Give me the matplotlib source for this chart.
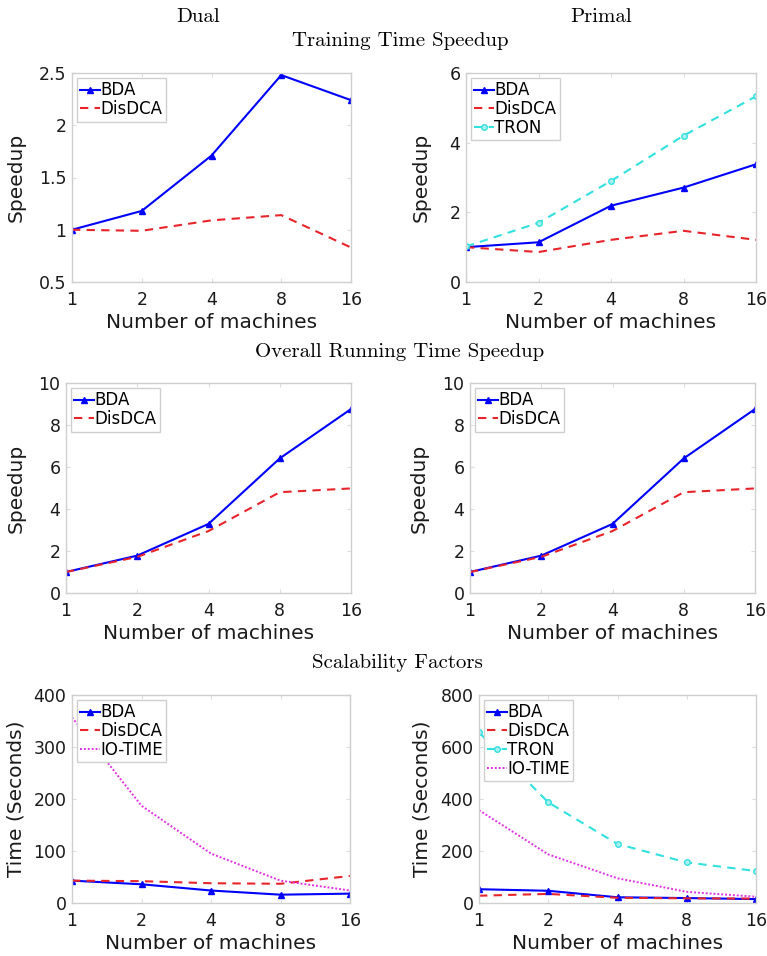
import numpy as np
import matplotlib.pyplot as plt

# machines on the x axis
machines = [1, 2, 4, 8, 16]

# Training time speedup
dual_train_bda = [1.0, 1.18, 1.71, 2.48, 2.24]
dual_train_disdca = [1.0, 0.99, 1.09, 1.14, 0.83]
primal_train_bda = [1.0, 1.14, 2.19, 2.71, 3.38]
primal_train_disdca = [1.0, 0.86, 1.21, 1.47, 1.21]
primal_train_tron = [1.02, 1.70, 2.90, 4.20, 5.33]

# Overall running time speedup (same in both columns)
overall_bda = [1.0, 1.78, 3.29, 6.41, 8.76]
overall_disdca = [1.0, 1.72, 2.95, 4.80, 4.98]

# Scalability factors (seconds)
dual_time_bda = [43, 36, 24, 16, 18]
dual_time_disdca = [43, 42, 38, 37, 52]
io_time = [357, 187, 95, 43, 24]
primal_time_bda = [53, 47, 22, 19, 15]
primal_time_disdca = [28, 35, 20, 18, 17]
primal_time_tron = [656, 387, 227, 156, 123]

W, H = 767, 956
fig = plt.figure(figsize=(W / 100, H / 100), dpi=100)

BLUE = "#0000ff"
RED = "#e8242b"
CYAN = "#33e0e0"
MAG = "#e033e0"
SPINE = "#cfcfcf"
TXT = "#1a1a1a"


def make_ax(l, t, r, b, ylabel, ylab_x):
    ax = fig.add_axes([l / W, 1 - b / H, (r - l) / W, (b - t) / H])
    ax.set_xscale("log", base=2)
    ax.set_xlim(1, 16)
    ax.set_xticks(machines)
    ax.set_xticklabels([str(m) for m in machines])
    ax.minorticks_off()
    for s in ax.spines.values():
        s.set_color(SPINE)
        s.set_linewidth(1.0)
    ax.tick_params(direction="in", top=True, right=True, length=3,
                   color="#dddddd", labelsize=12.5, labelcolor=TXT)
    ax.tick_params(axis="x", pad=6.5)
    ax.tick_params(axis="y", pad=4)
    ax.set_xlabel("Number of machines", fontsize=14.5, color=TXT, labelpad=3)
    ax.set_ylabel(ylabel, fontsize=14.5, color=TXT)
    # put the y label's right edge at a fixed pixel column
    ax.yaxis.set_label_coords((ylab_x - l) / (r - l), 0.5)
    return ax


def bda(ax, y):
    ax.plot(machines, y, color=BLUE, lw=1.5, marker="^", ms=5, label="BDA")


def disdca(ax, y):
    ax.plot(machines, y, color=RED, lw=1.5, ls=(0, (4, 3)), label="DisDCA")


def tron(ax, y):
    ax.plot(machines, y, color=CYAN, lw=1.5, ls=(0, (4, 3)), marker="o", ms=4,
            mfc="#aaf0f0", label="TRON")


def iotime(ax, y):
    ax.plot(machines, y, color=MAG, lw=1.4, ls=(0, (1, 1)), label="IO-TIME")


def legend(ax):
    leg = ax.legend(loc="upper left", fontsize=12, handlelength=1.15,
                    handletextpad=0.05, borderpad=0.2, labelspacing=0.05,
                    borderaxespad=0.3, fancybox=False, framealpha=1)
    leg.get_frame().set_edgecolor(SPINE)
    leg.get_frame().set_linewidth(1.0)


# row 1: training time speedup
ax = make_ax(72, 73, 351, 282, "Speedup", 26)
bda(ax, dual_train_bda)
disdca(ax, dual_train_disdca)
ax.set_ylim(0.5, 2.5)
ax.set_yticks([0.5, 1, 1.5, 2, 2.5])
ax.set_yticklabels(["0.5", "1", "1.5", "2", "2.5"])
legend(ax)

ax = make_ax(466, 73, 756, 282, "Speedup", 431)
bda(ax, primal_train_bda)
disdca(ax, primal_train_disdca)
tron(ax, primal_train_tron)
ax.set_ylim(0, 6)
ax.set_yticks([0, 2, 4, 6])
legend(ax)

# row 2: overall running time speedup
for l, r, lx in [(66, 351, 26), (470, 755, 429)]:
    ax = make_ax(l, 383, r, 593, "Speedup", lx)
    bda(ax, overall_bda)
    disdca(ax, overall_disdca)
    ax.set_ylim(0, 10)
    ax.set_yticks([0, 2, 4, 6, 8, 10])
    legend(ax)

# row 3: scalability factors
ax = make_ax(72, 695, 350, 903, "Time (Seconds)", 26)
bda(ax, dual_time_bda)
disdca(ax, dual_time_disdca)
iotime(ax, io_time)
ax.set_ylim(0, 400)
ax.set_yticks([0, 100, 200, 300, 400])
legend(ax)

ax = make_ax(479, 695, 756, 903, "Time (Seconds)", 431)
bda(ax, primal_time_bda)
disdca(ax, primal_time_disdca)
tron(ax, primal_time_tron)
iotime(ax, io_time)
ax.set_ylim(0, 800)
ax.set_yticks([0, 200, 400, 600, 800])
legend(ax)

# column and row headings
serif = dict(family="cmr10", fontsize=15, ha="center", va="center")
fig.text(198 / W, 1 - 17 / H, "Dual", **serif)
fig.text(601 / W, 1 - 17 / H, "Primal", **serif)
fig.text(400 / W, 1 - 41 / H, "Training Time Speedup", **serif)
fig.text(400 / W, 1 - 352 / H, "Overall Running Time Speedup", **serif)
fig.text(397 / W, 1 - 663 / H, "Scalability Factors", **serif)

fig.savefig("out.png", dpi=100)
